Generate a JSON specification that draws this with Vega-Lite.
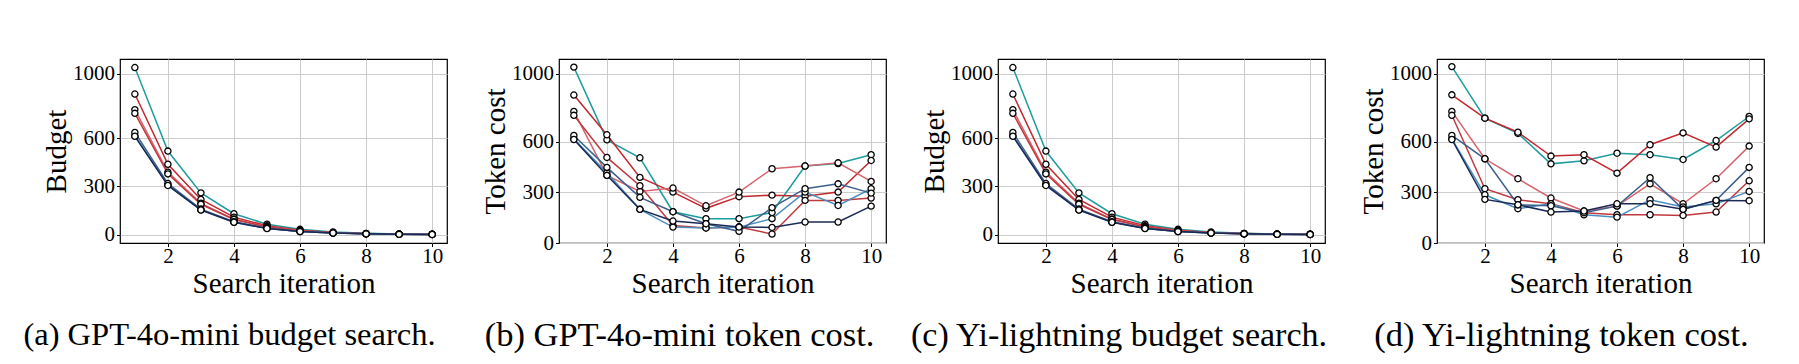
{
"$schema": "https://vega.github.io/schema/vega-lite/v6.json",
"padding": {"left": 22, "top": 58, "right": 0, "bottom": 0},
"background": "white",
"spacing": 112,
"bounds": "flush",
"datasets": {
"budget": [
{"s":"s1","it":1,"v":1040},{"s":"s1","it":2,"v":520},{"s":"s1","it":3,"v":260},{"s":"s1","it":4,"v":130},{"s":"s1","it":5,"v":65},{"s":"s1","it":6,"v":33},{"s":"s1","it":7,"v":16},{"s":"s1","it":8,"v":8},{"s":"s1","it":9,"v":4},{"s":"s1","it":10,"v":2},
{"s":"s2","it":1,"v":875},{"s":"s2","it":2,"v":438},{"s":"s2","it":3,"v":219},{"s":"s2","it":4,"v":109},{"s":"s2","it":5,"v":55},{"s":"s2","it":6,"v":27},{"s":"s2","it":7,"v":14},{"s":"s2","it":8,"v":7},{"s":"s2","it":9,"v":3},{"s":"s2","it":10,"v":2},
{"s":"s3","it":1,"v":778},{"s":"s3","it":2,"v":389},{"s":"s3","it":3,"v":195},{"s":"s3","it":4,"v":97},{"s":"s3","it":5,"v":49},{"s":"s3","it":6,"v":24},{"s":"s3","it":7,"v":12},{"s":"s3","it":8,"v":6},{"s":"s3","it":9,"v":3},{"s":"s3","it":10,"v":2},
{"s":"s4","it":1,"v":755},{"s":"s4","it":2,"v":378},{"s":"s4","it":3,"v":189},{"s":"s4","it":4,"v":94},{"s":"s4","it":5,"v":47},{"s":"s4","it":6,"v":24},{"s":"s4","it":7,"v":12},{"s":"s4","it":8,"v":6},{"s":"s4","it":9,"v":3},{"s":"s4","it":10,"v":1},
{"s":"s5","it":1,"v":616},{"s":"s5","it":2,"v":308},{"s":"s5","it":3,"v":154},{"s":"s5","it":4,"v":77},{"s":"s5","it":5,"v":39},{"s":"s5","it":6,"v":19},{"s":"s5","it":7,"v":10},{"s":"s5","it":8,"v":5},{"s":"s5","it":9,"v":2},{"s":"s5","it":10,"v":1},
{"s":"s6","it":1,"v":636},{"s":"s6","it":2,"v":318},{"s":"s6","it":3,"v":159},{"s":"s6","it":4,"v":80},{"s":"s6","it":5,"v":40},{"s":"s6","it":6,"v":20},{"s":"s6","it":7,"v":10},{"s":"s6","it":8,"v":5},{"s":"s6","it":9,"v":2},{"s":"s6","it":10,"v":1},
{"s":"s7","it":1,"v":612},{"s":"s7","it":2,"v":306},{"s":"s7","it":3,"v":153},{"s":"s7","it":4,"v":77},{"s":"s7","it":5,"v":38},{"s":"s7","it":6,"v":19},{"s":"s7","it":7,"v":10},{"s":"s7","it":8,"v":5},{"s":"s7","it":9,"v":2},{"s":"s7","it":10,"v":1}
],
"gpt": [
{"s":"s1","it":1,"v":1040},{"s":"s1","it":2,"v":610},{"s":"s1","it":3,"v":504},{"s":"s1","it":4,"v":185},{"s":"s1","it":5,"v":144},{"s":"s1","it":6,"v":144},{"s":"s1","it":7,"v":180},{"s":"s1","it":8,"v":455},{"s":"s1","it":9,"v":470},{"s":"s1","it":10,"v":522},
{"s":"s2","it":1,"v":875},{"s":"s2","it":2,"v":640},{"s":"s2","it":3,"v":388},{"s":"s2","it":4,"v":301},{"s":"s2","it":5,"v":205},{"s":"s2","it":6,"v":274},{"s":"s2","it":7,"v":283},{"s":"s2","it":8,"v":277},{"s":"s2","it":9,"v":301},{"s":"s2","it":10,"v":488},
{"s":"s3","it":1,"v":778},{"s":"s3","it":2,"v":400},{"s":"s3","it":3,"v":305},{"s":"s3","it":4,"v":325},{"s":"s3","it":5,"v":220},{"s":"s3","it":6,"v":301},{"s":"s3","it":7,"v":439},{"s":"s3","it":8,"v":455},{"s":"s3","it":9,"v":474},{"s":"s3","it":10,"v":364},
{"s":"s4","it":1,"v":755},{"s":"s4","it":2,"v":506},{"s":"s4","it":3,"v":339},{"s":"s4","it":4,"v":104},{"s":"s4","it":5,"v":89},{"s":"s4","it":6,"v":94},{"s":"s4","it":7,"v":53},{"s":"s4","it":8,"v":252},{"s":"s4","it":9,"v":252},{"s":"s4","it":10,"v":266},
{"s":"s5","it":1,"v":616},{"s":"s5","it":2,"v":415},{"s":"s5","it":3,"v":199},{"s":"s5","it":4,"v":94},{"s":"s5","it":5,"v":89},{"s":"s5","it":6,"v":94},{"s":"s5","it":7,"v":144},{"s":"s5","it":8,"v":301},{"s":"s5","it":9,"v":222},{"s":"s5","it":10,"v":321},
{"s":"s6","it":1,"v":636},{"s":"s6","it":2,"v":447},{"s":"s6","it":3,"v":270},{"s":"s6","it":4,"v":185},{"s":"s6","it":5,"v":114},{"s":"s6","it":6,"v":69},{"s":"s6","it":7,"v":209},{"s":"s6","it":8,"v":321},{"s":"s6","it":9,"v":350},{"s":"s6","it":10,"v":295},
{"s":"s7","it":1,"v":612},{"s":"s7","it":2,"v":400},{"s":"s7","it":3,"v":199},{"s":"s7","it":4,"v":130},{"s":"s7","it":5,"v":114},{"s":"s7","it":6,"v":94},{"s":"s7","it":7,"v":92},{"s":"s7","it":8,"v":124},{"s":"s7","it":9,"v":124},{"s":"s7","it":10,"v":218}
],
"yi": [
{"s":"s1","it":1,"v":1043},{"s":"s1","it":2,"v":738},{"s":"s1","it":3,"v":648},{"s":"s1","it":4,"v":468},{"s":"s1","it":5,"v":486},{"s":"s1","it":6,"v":531},{"s":"s1","it":7,"v":522},{"s":"s1","it":8,"v":494},{"s":"s1","it":9,"v":606},{"s":"s1","it":10,"v":748},
{"s":"s2","it":1,"v":876},{"s":"s2","it":2,"v":738},{"s":"s2","it":3,"v":655},{"s":"s2","it":4,"v":514},{"s":"s2","it":5,"v":522},{"s":"s2","it":6,"v":413},{"s":"s2","it":7,"v":581},{"s":"s2","it":8,"v":651},{"s":"s2","it":9,"v":567},{"s":"s2","it":10,"v":734},
{"s":"s3","it":1,"v":778},{"s":"s3","it":2,"v":498},{"s":"s3","it":3,"v":380},{"s":"s3","it":4,"v":266},{"s":"s3","it":5,"v":189},{"s":"s3","it":6,"v":218},{"s":"s3","it":7,"v":350},{"s":"s3","it":8,"v":232},{"s":"s3","it":9,"v":380},{"s":"s3","it":10,"v":573},
{"s":"s4","it":1,"v":755},{"s":"s4","it":2,"v":321},{"s":"s4","it":3,"v":256},{"s":"s4","it":4,"v":232},{"s":"s4","it":5,"v":179},{"s":"s4","it":6,"v":167},{"s":"s4","it":7,"v":167},{"s":"s4","it":8,"v":163},{"s":"s4","it":9,"v":183},{"s":"s4","it":10,"v":368},
{"s":"s5","it":1,"v":616},{"s":"s5","it":2,"v":285},{"s":"s5","it":3,"v":203},{"s":"s5","it":4,"v":232},{"s":"s5","it":5,"v":167},{"s":"s5","it":6,"v":153},{"s":"s5","it":7,"v":256},{"s":"s5","it":8,"v":213},{"s":"s5","it":9,"v":232},{"s":"s5","it":10,"v":305},
{"s":"s6","it":1,"v":636},{"s":"s6","it":2,"v":498},{"s":"s6","it":3,"v":226},{"s":"s6","it":4,"v":220},{"s":"s6","it":5,"v":179},{"s":"s6","it":6,"v":218},{"s":"s6","it":7,"v":386},{"s":"s6","it":8,"v":199},{"s":"s6","it":9,"v":252},{"s":"s6","it":10,"v":447},
{"s":"s7","it":1,"v":612},{"s":"s7","it":2,"v":258},{"s":"s7","it":3,"v":226},{"s":"s7","it":4,"v":183},{"s":"s7","it":5,"v":189},{"s":"s7","it":6,"v":232},{"s":"s7","it":7,"v":232},{"s":"s7","it":8,"v":199},{"s":"s7","it":9,"v":252},{"s":"s7","it":10,"v":250}
]
},
"hconcat": [
{
"width": 327, "height": 184,
"data": {"name": "budget"},
"title": {"text": "(a) GPT-4o-mini budget search.", "dx": -54, "fontSize": 32.5},
"encoding": {
"x": {"field": "it", "type": "quantitative", "scale": {"domain": [0.55, 10.45], "nice": false, "zero": false}, "axis": {"values": [2,4,6,8,10], "title": "Search iteration", "format": "d"}},
"y": {"field": "v", "type": "quantitative", "scale": {"domain": [-52, 1093], "nice": false, "zero": false}, "axis": {"values": [0,300,600,1000], "title": "Budget", "format": "d"}},
"color": {"field": "s", "type": "nominal", "legend": null, "scale": {"domain": ["s1","s2","s3","s4","s5","s6","s7"], "range": ["#1f9c9e","#c1272d","#d7646c","#c0393f","#4b8fc0","#3c5f8c","#1b2a55"]}}
},
"layer": [
{"mark": {"type": "line", "strokeWidth": 1.5}},
{"mark": {"type": "point", "shape": "circle", "filled": true, "fill": "white", "stroke": "black", "strokeWidth": 1.3, "size": 38, "opacity": 1}}
]
},
{
"width": 327, "height": 184,
"data": {"name": "gpt"},
"title": {"text": "(b) GPT-4o-mini token cost.", "dx": -43, "fontSize": 34.5},
"encoding": {
"x": {"field": "it", "type": "quantitative", "scale": {"domain": [0.55, 10.45], "nice": false, "zero": false}, "axis": {"values": [2,4,6,8,10], "title": "Search iteration", "format": "d"}},
"y": {"field": "v", "type": "quantitative", "scale": {"domain": [0, 1088], "nice": false, "zero": false}, "axis": {"values": [0,300,600,1000], "title": "Token cost", "format": "d"}},
"color": {"field": "s", "type": "nominal", "legend": null, "scale": {"domain": ["s1","s2","s3","s4","s5","s6","s7"], "range": ["#1f9c9e","#c1272d","#d7646c","#c0393f","#4b8fc0","#3c5f8c","#1b2a55"]}}
},
"layer": [
{"mark": {"type": "line", "strokeWidth": 1.5}},
{"mark": {"type": "point", "shape": "circle", "filled": true, "fill": "white", "stroke": "black", "strokeWidth": 1.3, "size": 38, "opacity": 1}}
]
},
{
"width": 327, "height": 184,
"data": {"name": "budget"},
"title": {"text": "(c) Yi-lightning budget search.", "dx": -42.5, "fontSize": 34},
"encoding": {
"x": {"field": "it", "type": "quantitative", "scale": {"domain": [0.55, 10.45], "nice": false, "zero": false}, "axis": {"values": [2,4,6,8,10], "title": "Search iteration", "format": "d"}},
"y": {"field": "v", "type": "quantitative", "scale": {"domain": [-52, 1093], "nice": false, "zero": false}, "axis": {"values": [0,300,600,1000], "title": "Budget", "format": "d"}},
"color": {"field": "s", "type": "nominal", "legend": null, "scale": {"domain": ["s1","s2","s3","s4","s5","s6","s7"], "range": ["#1f9c9e","#c1272d","#d7646c","#c0393f","#4b8fc0","#3c5f8c","#1b2a55"]}}
},
"layer": [
{"mark": {"type": "line", "strokeWidth": 1.5}},
{"mark": {"type": "point", "shape": "circle", "filled": true, "fill": "white", "stroke": "black", "strokeWidth": 1.3, "size": 38, "opacity": 1}}
]
},
{
"width": 327, "height": 184,
"data": {"name": "yi"},
"title": {"text": "(d) Yi-lightning token cost.", "dx": -39, "fontSize": 34.5},
"encoding": {
"x": {"field": "it", "type": "quantitative", "scale": {"domain": [0.55, 10.45], "nice": false, "zero": false}, "axis": {"values": [2,4,6,8,10], "title": "Search iteration", "format": "d"}},
"y": {"field": "v", "type": "quantitative", "scale": {"domain": [0, 1088], "nice": false, "zero": false}, "axis": {"values": [0,300,600,1000], "title": "Token cost", "format": "d"}},
"color": {"field": "s", "type": "nominal", "legend": null, "scale": {"domain": ["s1","s2","s3","s4","s5","s6","s7"], "range": ["#1f9c9e","#c1272d","#d7646c","#c0393f","#4b8fc0","#3c5f8c","#1b2a55"]}}
},
"layer": [
{"mark": {"type": "line", "strokeWidth": 1.5}},
{"mark": {"type": "point", "shape": "circle", "filled": true, "fill": "white", "stroke": "black", "strokeWidth": 1.3, "size": 38, "opacity": 1}}
]
}
],
"config": {
"font": "Liberation Serif",
"view": {"stroke": "black", "strokeWidth": 1.2},
"axis": {"labelFont": "Liberation Serif", "labelFontSize": 21, "labelColor": "black", "titleFont": "Liberation Serif", "titleFontSize": 29, "titleFontWeight": "normal", "titleColor": "black", "gridColor": "#cccccc", "gridWidth": 1, "tickColor": "black", "tickSize": 3.5, "domain": false, "labelPadding": 2, "labelFlush": false, "labelOverlap": false},
"axisY": {"titlePadding": 1},
"axisX": {"titlePadding": 3, "labelPadding": -1},
"title": {"orient": "bottom", "anchor": "middle", "frame": "group", "font": "Liberation Serif", "fontSize": 33, "fontWeight": "normal", "color": "black", "offset": 20}
}
}
